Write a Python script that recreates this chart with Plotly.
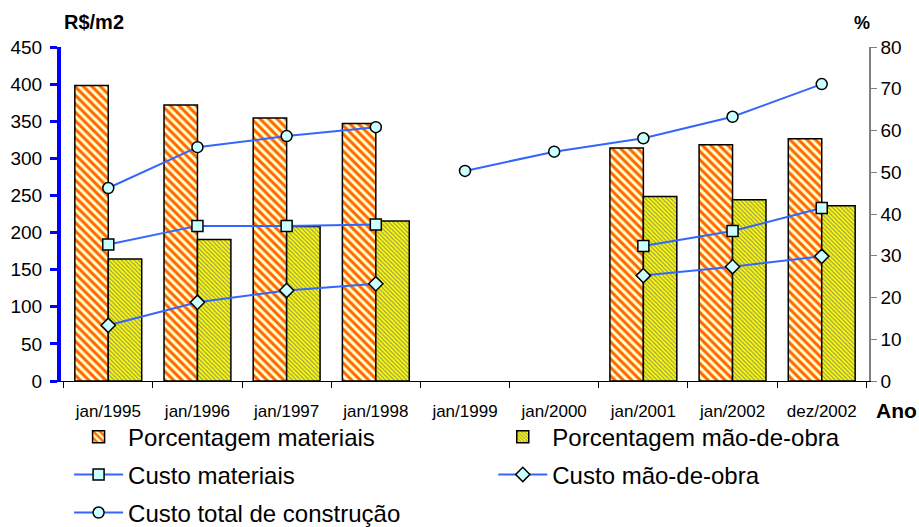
import plotly.graph_objects as go

anos = ["jan/1995", "jan/1996", "jan/1997", "jan/1998", "jan/1999",
        "jan/2000", "jan/2001", "jan/2002", "dez/2002"]

# percentages (right axis)
pct_materiais = [70.8, 66.1, 63.0, 61.7, None, None, 55.8, 56.6, 58.0]
pct_mao_obra = [29.2, 33.9, 37.0, 38.3, None, None, 44.2, 43.4, 42.0]

# costs in R$/m2 (left axis)
custo_materiais = [184, 209, 209, 211, None, None, 182, 202, 233]
custo_mao_obra = [75, 106, 122, 131, None, None, 142, 154, 168]
custo_total_a = [260, 315, 330, 342]
custo_total_b = [283, 309, 327, 356, 400]

FONT = "Liberation Sans, Arial, sans-serif"
LINE_BLUE = "#3366FF"
MARKER_FILL = "#CCFFFF"

fig = go.Figure()

fig.add_trace(go.Bar(
    x=anos, y=pct_materiais, name="Porcentagem materiais", yaxis="y",
    marker=dict(color="#FFFFCC", line=dict(color="black", width=1.5),
                pattern=dict(shape="\\", fgcolor="#FF6600", bgcolor="#FFFFCC",
                             size=6, solidity=0.5, fillmode="replace", fgopacity=1)),
    legend="legend",
))
fig.add_trace(go.Bar(
    x=anos, y=pct_mao_obra, name="Porcentagem mão-de-obra", yaxis="y",
    marker=dict(color="#FFFF00", line=dict(color="black", width=1.5),
                pattern=dict(shape="\\", fgcolor="#9A9A60", bgcolor="#FFFF00",
                             size=3, solidity=0.4, fillmode="replace", fgopacity=1)),
    legend="legend4",
))

mk_line = dict(color="black", width=1.5)
fig.add_trace(go.Scatter(
    x=anos, y=custo_materiais, name="Custo materiais", yaxis="y2",
    mode="lines+markers", line=dict(color=LINE_BLUE, width=2),
    marker=dict(symbol="square", size=11, color=MARKER_FILL, line=mk_line),
    legend="legend2",
))
fig.add_trace(go.Scatter(
    x=anos, y=custo_mao_obra, name="Custo mão-de-obra", yaxis="y2",
    mode="lines+markers", line=dict(color=LINE_BLUE, width=2),
    marker=dict(symbol="diamond", size=11, color=MARKER_FILL, line=mk_line),
    legend="legend5",
))
fig.add_trace(go.Scatter(
    x=anos[:4], y=custo_total_a, name="Custo total de construção", yaxis="y2",
    mode="lines+markers", line=dict(color=LINE_BLUE, width=2),
    marker=dict(symbol="circle", size=11, color=MARKER_FILL, line=mk_line),
    legend="legend3", legendgroup="total",
))
fig.add_trace(go.Scatter(
    x=anos[4:], y=custo_total_b, name="Custo total de construção", yaxis="y2",
    mode="lines+markers", line=dict(color=LINE_BLUE, width=2),
    marker=dict(symbol="circle", size=11, color=MARKER_FILL, line=mk_line),
    legend="legend3", legendgroup="total", showlegend=False,
))

leg = dict(orientation="h", xanchor="left", yanchor="middle",
           font=dict(family=FONT, size=24, color="black"),
           itemwidth=49, bgcolor="rgba(0,0,0,0)", tracegroupgap=0)
col1, col2 = 0.01, 0.535
row1, row2, row3 = -0.168, -0.281, -0.395

fig.update_layout(
    width=919, height=527,
    margin=dict(l=61, r=50, t=47, b=146, autoexpand=False),
    plot_bgcolor="white", paper_bgcolor="white",
    font=dict(family=FONT, size=18, color="black"),
    barmode="group", bargap=0.25, bargroupgap=0,
    xaxis=dict(type="category", categoryorder="array", categoryarray=anos,
               showline=True, linecolor="black", linewidth=1,
               ticks="outside", tickson="boundaries", ticklen=6, tickcolor="black",
               ticklabelstandoff=15,
               tickfont=dict(size=17), showgrid=False, zeroline=False),
    yaxis=dict(side="right", range=[0, 80], dtick=10,
               showline=True, linecolor="#808080", linewidth=1.5,
               ticks="outside", ticklen=6, tickcolor="#808080",
               showgrid=False, zeroline=False, tickfont=dict(size=19)),
    yaxis2=dict(side="left", overlaying="y", range=[0, 450], dtick=50,
                showline=True, linecolor="#0000FF", linewidth=4,
                ticks="outside", ticklen=7, tickwidth=3, tickcolor="#0000FF",
                ticklabelstandoff=4,
                showgrid=False, zeroline=False, tickfont=dict(size=19)),
    legend=dict(leg, x=col1, y=row1),
    legend4=dict(leg, x=col2, y=row1),
    legend2=dict(leg, x=col1, y=row2),
    legend5=dict(leg, x=col2, y=row2),
    legend3=dict(leg, x=col1, y=row3),
    showlegend=True,
)

fig.add_annotation(xref="paper", yref="paper", x=0.001, y=1.036, xanchor="left",
                   yanchor="bottom", text="<b>R$/m2</b>", showarrow=False,
                   font=dict(size=20))
fig.add_annotation(xref="paper", yref="paper", x=0.991, y=1.035, xanchor="center",
                   yanchor="bottom", text="<b>%</b>", showarrow=False,
                   font=dict(size=18))
fig.add_annotation(xref="paper", yref="paper", x=1.062, y=-0.087, xanchor="right",
                   yanchor="middle", text="<b>Ano</b>", showarrow=False,
                   font=dict(size=21))

fig.write_html("out.html", config={"displayModeBar": False},
               post_script="document.body.style.margin='0';")
